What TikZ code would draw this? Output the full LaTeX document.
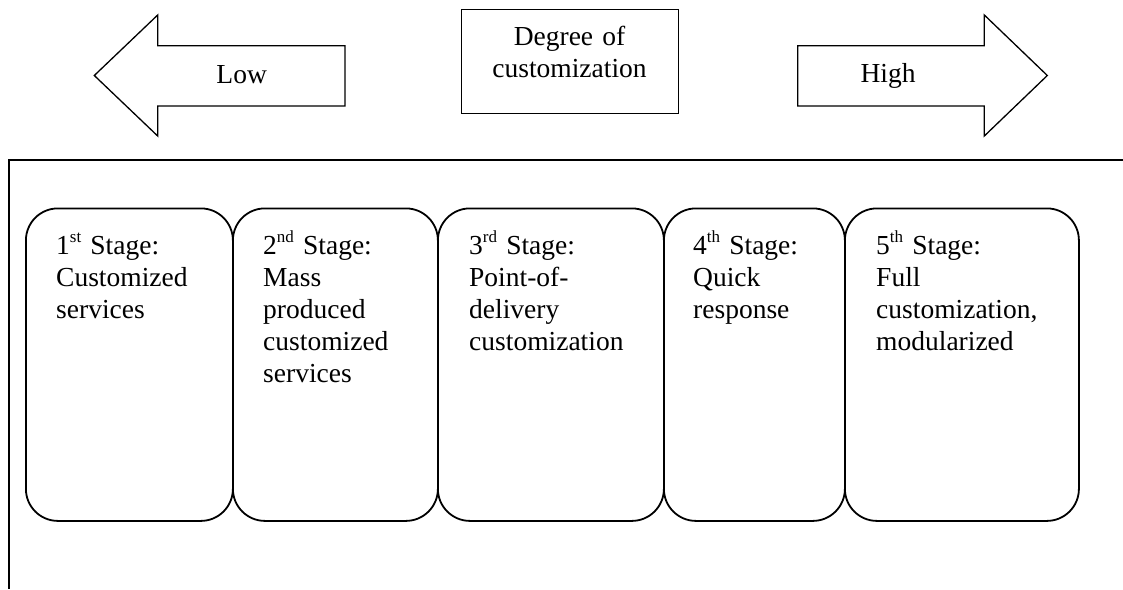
\documentclass[tikz,border=0pt]{standalone}
\usepackage{fontspec}
\setmainfont{Liberation Serif}
\newcommand\supx[1]{\raisebox{12pt}{\fontsize{17}{17}\selectfont #1}}
\begin{document}
\begin{tikzpicture}[x=1pt,y=-1pt,
  txt/.style={font=\fontsize{27.5}{32}\selectfont, inner sep=0pt},
  stagebox/.style={draw, line width=1.8pt, rounded corners=32pt, inner sep=0pt, minimum height=312.5pt, anchor=north west},
  stagetxt/.style={txt, text width=200pt, align=left, anchor=base west},
  shape arrow/.style={draw, line width=1.3pt, line join=miter}
]
\useasboundingbox (0,0) rectangle (1123,589);
% frame
\draw[line width=1.6pt] (1123,160) -- (9,160) -- (9,589);
% left arrow
\draw[shape arrow] (94.3,75.5) -- (157.7,15) -- (157.7,45.7) -- (345,45.7) -- (345,106) -- (157.7,106) -- (157.7,136) -- cycle;
\node[txt, anchor=base] (low) at (241.7,83) {Low};
% right arrow
\draw[shape arrow] (797.7,45.7) -- (984.3,45.7) -- (984.3,15) -- (1047.3,75.5) -- (984.3,136) -- (984.3,106) -- (797.7,106) -- cycle;
\node[txt, anchor=base] (high) at (888,82.5) {High};
% degree box
\node[draw, line width=1.5pt, minimum width=216.6pt, minimum height=104pt, inner sep=0pt] (deg) at (570,61.3) {};
\node[txt, text width=210pt, align=center, anchor=base] (degt) at (569.5,45.7) {Degree of\\customization};
% stage boxes
\node[stagebox, minimum width=207pt] (b1) at (25,207.5) {};
\node[stagebox, minimum width=205pt] (b2) at (232,207.5) {};
\node[stagebox, minimum width=226pt] (b3) at (437,207.5) {};
\node[stagebox, minimum width=181pt] (b4) at (663,207.5) {};
\node[stagebox, minimum width=234pt] (b5) at (844,207.5) {};
\node[stagetxt] (t1) at ([shift={(31,46.5)}]b1.north west) {1\supx{st} Stage:\\Customized\\services};
\node[stagetxt] (t2) at ([shift={(31,46.5)}]b2.north west) {2\supx{nd} Stage:\\Mass\\produced\\customized\\services};
\node[stagetxt] (t3) at ([shift={(32,46.5)}]b3.north west) {3\supx{rd} Stage:\\Point-of-\\delivery\\customization};
\node[stagetxt] (t4) at ([shift={(30,46.5)}]b4.north west) {4\supx{th} Stage:\\Quick\\response};
\node[stagetxt] (t5) at ([shift={(32,46.5)}]b5.north west) {5\supx{th} Stage:\\Full\\customization,\\modularized};
\end{tikzpicture}
\end{document}
